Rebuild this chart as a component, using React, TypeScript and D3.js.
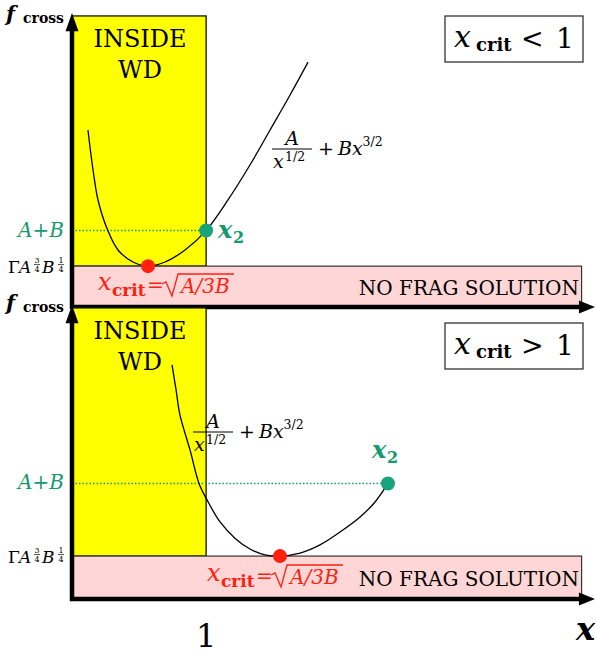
import React from 'react';
import * as d3 from 'd3';

// x in units of the white-dwarf radius, f_cross in arbitrary units
const caseSigns = ['<', '>'];
const xCrit = [0.567, 1.551];
const xTwo = [1.0, 2.356];
const fMin = [1.39, 1.46];
const fAB = [2.6, 3.93];
const xTicks = [1];
const xTickLabels = ['1'];

// f_cross = A/x^(1/2) + B x^(3/2)
const curveLow: [number, number][] = [
  [0.119, 6.02], [0.157, 4.66], [0.194, 3.64], [0.268, 2.59], [0.343, 1.94],
  [0.455, 1.53], [0.567, 1.39], [0.694, 1.53], [0.843, 1.94], [1.0, 2.6],
  [1.163, 3.64], [1.327, 4.83], [1.477, 6.02], [1.626, 7.21], [1.76, 8.33],
];
const curveHigh: [number, number][] = [
  [0.746, 7.96], [0.776, 7.11], [0.805, 6.26], [0.88, 5.07], [0.947, 3.93],
  [1.007, 3.37], [1.104, 2.62], [1.215, 2.07], [1.327, 1.7], [1.439, 1.5],
  [1.551, 1.46], [1.7, 1.56], [1.849, 1.84], [1.999, 2.28], [2.148, 2.79],
  [2.26, 3.3], [2.356, 3.93],
];
const curves = [curveLow, curveHigh];

const FONT = "'DejaVu Serif', 'Liberation Serif', serif";
const GREEN = '#16996f';
const DOT_GREEN = '#17a47c';
const RED = '#ff2010';

// layout of the two panels
const PANEL_DY = 292;
const boxY = [16, 323];
const fLabelY = [23, 312];
const formulaPos = [[272, 149], [193, 432]];
const critPos = [[98, 293], [207, 584]];
const x2Pos = [[218, 238], [372, 458]];

const x = d3.scaleLinear().domain([0, 3.9]).range([72, 595]);

function Formula({ fx, fy }: { fx: number; fy: number }) {
  return (
    <g fontFamily={FONT} fill="#000">
      <text x={fx + 20} y={fy - 4} fontSize={19} fontStyle="italic" textAnchor="middle">A</text>
      <line x1={fx} x2={fx + 40} y1={fy} y2={fy} stroke="#000" strokeWidth={1.1} />
      <text x={fx + 1} y={fy + 19} fontSize={19} fontStyle="italic">x</text>
      <text x={fx + 13} y={fy + 12} fontSize={12.5}>1/2</text>
      <text x={fx + 46} y={fy + 6} fontSize={19}>
        +<tspan dx={4} fontStyle="italic">Bx</tspan>
        <tspan dy={-9} fontSize={12.5}>3/2</tspan>
      </text>
    </g>
  );
}

function CritLabel({ ox, oy }: { ox: number; oy: number }) {
  return (
    <g fill={RED} fontFamily={FONT}>
      <text x={ox} y={oy - 3} fontSize={24} fontStyle="italic">x</text>
      <text x={ox + 14} y={oy + 3} fontSize={17} fontWeight="bold">crit</text>
      <text x={ox + 49} y={oy - 1} fontSize={20}>=</text>
      <path
        d={`M${ox + 64},${oy - 9} L${ox + 68},${oy - 11} L${ox + 74},${oy + 3} L${ox + 80},${oy - 19} L${ox + 136},${oy - 19}`}
        stroke={RED} strokeWidth={1.3} fill="none"
      />
      <text x={ox + 83} y={oy} fontSize={20} fontStyle="italic">A/3B</text>
    </g>
  );
}

function Frac({ cx, by, n, d }: { cx: number; by: number; n: string; d: string }) {
  return (
    <g fontSize={8} textAnchor="middle">
      <text x={cx} y={by - 10}>{n}</text>
      <line x1={cx - 3} x2={cx + 3} y1={by - 8.5} y2={by - 8.5} stroke="#000" strokeWidth={0.7} />
      <text x={cx} y={by - 1}>{d}</text>
    </g>
  );
}

function Panel({ k }: { k: number }) {
  const dy = k * PANEL_DY;
  const y = d3.scaleLinear().domain([0, 10]).range([307 + dy, 13 + dy]);
  const line = d3.line<[number, number]>()
    .x(d => x(d[0]))
    .y(d => y(d[1]))
    .curve(d3.curveCatmullRom.alpha(0.5));
  const x0 = x(0);
  const yb = y(0);
  const lvY = y(fMin[k]) + 7;
  const [fx, fy] = formulaPos[k];
  const [cx, cy] = critPos[k];
  const [gx, gy] = x2Pos[k];
  const bx = 445, by = boxY[k];
  return (
    <g>
      <rect x={x0} y={y(9.9)} width={x(1) - x0} height={y(fMin[k]) - y(9.9)}
        fill="#ffff00" stroke="#111" strokeWidth={1.3} />
      <rect x={x0} y={y(fMin[k])} width={x(3.8) - x0} height={yb - y(fMin[k])}
        fill="#ffd6d6" stroke="#333" strokeWidth={1.2} />
      <line x1={x0} x2={x(xTwo[k])} y1={y(fAB[k])} y2={y(fAB[k])}
        stroke={GREEN} strokeWidth={1.5} strokeDasharray="1.5 2" />
      <path d={line(curves[k]) || ''} fill="none" stroke="#000" strokeWidth={1.3} />
      <circle cx={x(xCrit[k])} cy={y(fMin[k])} r={7} fill={RED} />
      <circle cx={x(xTwo[k])} cy={y(fAB[k])} r={7} fill={DOT_GREEN} />

      {/* axes */}
      <line x1={x0} x2={x0} y1={yb + 2} y2={y(9.4)} stroke="#000" strokeWidth={4.5} />
      <path d={`M${x0},${y(10)} L${x0 - 6.5},${y(9.38)} L${x0 + 6.5},${y(9.38)} Z`} fill="#000" />
      <line x1={x0 - 2} x2={x(3.79)} y1={yb} y2={yb} stroke="#000" strokeWidth={4.5} />
      <path d={`M${x(3.9)},${yb} L${x(3.78)},${yb - 6.5} L${x(3.78)},${yb + 6.5} Z`} fill="#000" />

      <g fontFamily={FONT}>
        <text x={6} y={fLabelY[k] - 2} fontSize={21} fontStyle="italic" fontWeight="bold">f</text>
        <text x={23} y={fLabelY[k]} fontSize={14} fontWeight="bold">cross</text>

        <text x={140} y={47 + dy} fontSize={24} textAnchor="middle">INSIDE</text>
        <text x={140} y={78 + dy} fontSize={24} textAnchor="middle">WD</text>

        <text x={579} y={y(fMin[k] / 2) + 8} fontSize={20} textAnchor="end">NO FRAG SOLUTION</text>

        <text x={64} y={y(fAB[k]) + 6} fontSize={20} fontStyle="italic" fill={GREEN} textAnchor="end">A+B</text>

        <text x={8} y={lvY} fontSize={17}>Γ</text>
        <text x={19} y={lvY} fontSize={17} fontStyle="italic">A</text>
        <Frac cx={37} by={lvY} n="3" d="4" />
        <text x={42} y={lvY} fontSize={17} fontStyle="italic">B</text>
        <Frac cx={61} by={lvY} n="1" d="4" />

        <text x={gx} y={gy} fontSize={24} fontStyle="italic" fontWeight="bold" fill={GREEN}>x</text>
        <text x={gx + 15} y={gy + 5} fontSize={16} fontWeight="bold" fill={GREEN}>2</text>

        <rect x={bx} y={by} width={138} height={46} fill="#fff" stroke="#333" strokeWidth={1.3} />
        <text x={bx + 9} y={by + 31} fontSize={30} fontStyle="italic">x</text>
        <text x={bx + 31} y={by + 35} fontSize={18} fontWeight="bold">crit</text>
        <text x={bx + 76} y={by + 32} fontSize={27}>{caseSigns[k]}</text>
        <text x={bx + 111} y={by + 32} fontSize={28}>1</text>
      </g>

      <Formula fx={fx} fy={fy} />
      <CritLabel ox={cx} oy={cy} />
    </g>
  );
}

export default function App() {
  return (
    <svg width={596} height={656} style={{ position: 'absolute', left: 0, top: 0 }}>
      <rect width={596} height={656} fill="#fff" />
      <Panel k={0} />
      <Panel k={1} />
      {xTicks.map((t, i) => (
        <text key={t} x={x(t)} y={647} fontFamily={FONT} fontSize={32} textAnchor="middle">
          {xTickLabels[i]}
        </text>
      ))}
      <text x={576} y={640} fontFamily={FONT} fontSize={32} fontStyle="italic" fontWeight="bold">x</text>
    </svg>
  );
}
